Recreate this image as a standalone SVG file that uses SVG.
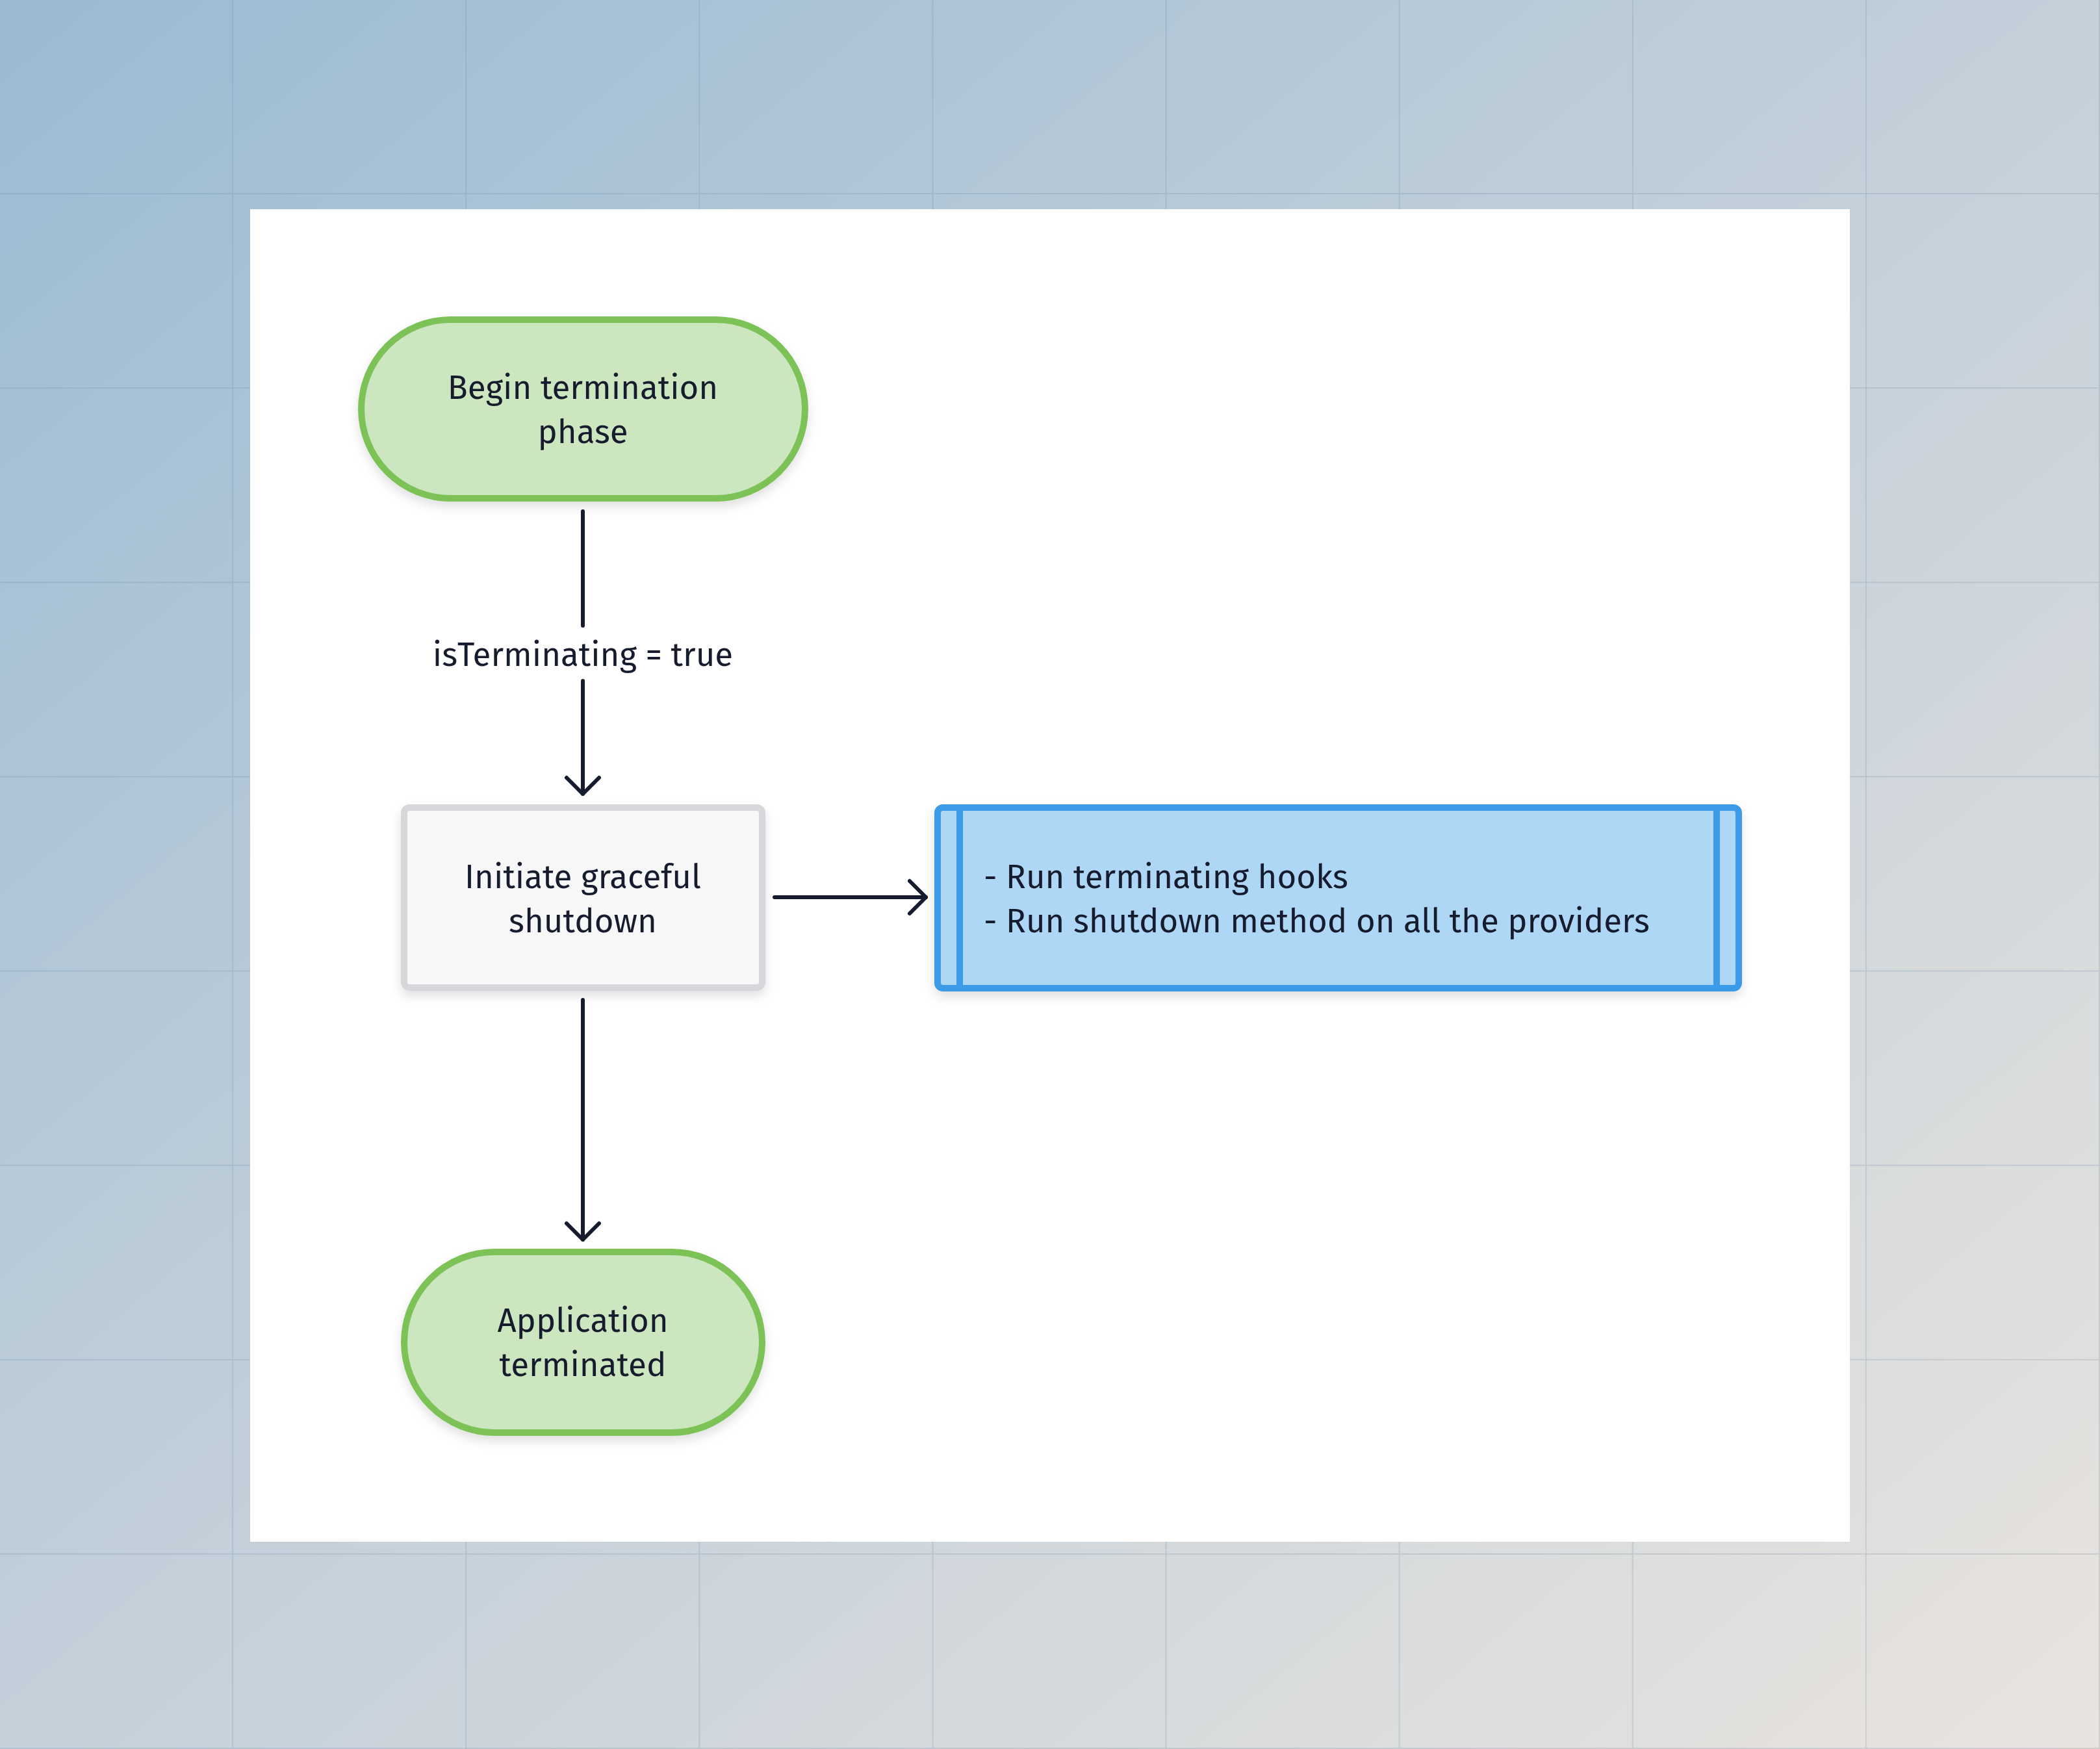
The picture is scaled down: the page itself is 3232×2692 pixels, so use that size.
<svg xmlns="http://www.w3.org/2000/svg" width="3232" height="2692" viewBox="0 0 3232 2692">
  <defs>
    <linearGradient id="bg" x1="0" y1="0" x2="1" y2="1">
      <stop offset="0" stop-color="#9bbbd3"/>
      <stop offset="0.5" stop-color="#c4d0da"/>
      <stop offset="1" stop-color="#e9e4df"/>
    </linearGradient>
    <filter id="shadow" x="-10%" y="-10%" width="120%" height="130%">
      <feDropShadow dx="0" dy="8" stdDeviation="8" flood-color="#000" flood-opacity="0.12"/>
    </filter>
    <marker id="arrow" markerUnits="userSpaceOnUse" viewBox="-40 -40 50 80" refX="0" refY="0" markerWidth="50" markerHeight="80" orient="auto">
      <path d="M -25 -25 L 0 0 L -25 25" fill="none" stroke="#161b2e" stroke-width="6" stroke-linecap="round" stroke-linejoin="round"/>
    </marker>
    <pattern id="grid" x="0" y="0" width="359.11" height="299.11" patternUnits="userSpaceOnUse">
      <path d="M 359.11 0 L 359.11 299.11 L 0 299.11" fill="none" stroke="#5a7e9e" stroke-opacity="0.2" stroke-width="4"/>
    </pattern>
  </defs>
  <style>
    .txt { font-family: "Fira Sans", Roboto, "Noto Sans", sans-serif; font-size: 51px; fill: #161b2e; }
    .mid { text-anchor: middle; }
    .terminal { fill: #cce6bf; stroke: #7bc257; stroke-width: 10; }
    .process { fill: #f7f7f7; stroke: #d6d7db; stroke-width: 10; }
    .sub { fill: #aed6f5; stroke: #3a9be8; stroke-width: 10; }
    .conn { fill: none; stroke: #161b2e; stroke-width: 6; stroke-linecap: round; }
  </style>

  <rect width="3232" height="2692" fill="url(#bg)"/>
  <rect width="3232" height="2692" fill="url(#grid)"/>
  <rect x="385" y="322" width="2462" height="2051" fill="#ffffff"/>

  <g id="connectors">
    <path class="conn" d="M 897 787 L 897 963"/>
    <path class="conn" d="M 897 1048 L 897 1222" marker-end="url(#arrow)"/>
    <text class="txt mid" x="897" y="1025">isTerminating = true</text>
    <path class="conn" d="M 1192 1381 L 1425 1381" marker-end="url(#arrow)"/>
    <path class="conn" d="M 897 1539 L 897 1908" marker-end="url(#arrow)"/>
  </g>

  <g id="node-begin" filter="url(#shadow)">
    <rect class="terminal" x="556" y="492" width="683" height="275" rx="137.5"/>
    <text class="txt mid" x="897" y="614">Begin termination</text>
    <text class="txt mid" x="897" y="682">phase</text>
  </g>

  <g id="node-initiate" filter="url(#shadow)">
    <rect class="process" x="622" y="1243" width="551" height="277" rx="8"/>
    <text class="txt mid" x="897" y="1367">Initiate graceful</text>
    <text class="txt mid" x="897" y="1435">shutdown</text>
  </g>

  <g id="node-hooks" filter="url(#shadow)">
    <rect class="sub" x="1443" y="1243" width="1233" height="278" rx="8"/>
    <line class="sub" x1="1477" y1="1243" x2="1477" y2="1521"/>
    <line class="sub" x1="2642" y1="1243" x2="2642" y2="1521"/>
    <text class="txt" x="1514" y="1367">- Run terminating hooks</text>
    <text class="txt" x="1514" y="1435">- Run shutdown method on all the providers</text>
  </g>

  <g id="node-end" filter="url(#shadow)">
    <rect class="terminal" x="622" y="1927" width="551" height="278" rx="139"/>
    <text class="txt mid" x="897" y="2050">Application</text>
    <text class="txt mid" x="897" y="2118">terminated</text>
  </g>
</svg>
